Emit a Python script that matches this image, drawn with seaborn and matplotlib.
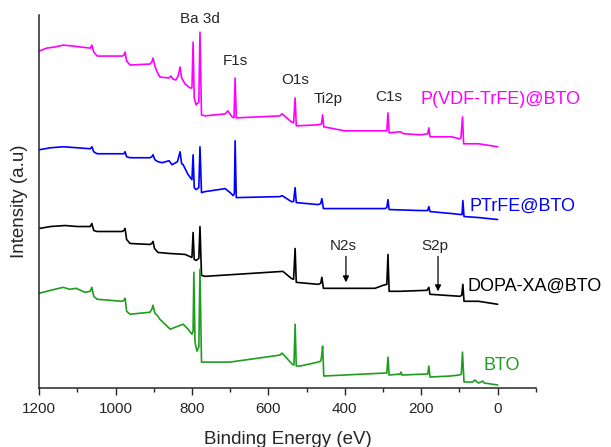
import numpy as np
import pandas as pd
import matplotlib
matplotlib.use("Agg")
import matplotlib.pyplot as plt
import seaborn as sns
from matplotlib.ticker import MultipleLocator

# hand-read spectra: binding energy (eV) and intensity (arbitrary units)
pvdf_e = [1200, 1180, 1160, 1137, 1110, 1090, 1066, 1062, 1057, 1048, 983, 978, 975, 971,
          962, 910, 905, 902, 897, 891, 884, 860, 855, 850, 842, 836, 831, 827, 818, 805,
          800, 797, 794, 789, 782, 779, 775, 766, 713, 706, 695, 690, 687, 684, 570, 564,
          540, 534, 530, 527, 470, 461, 458, 455, 400, 295, 290, 287, 284, 255, 245, 200,
          185, 183, 180, 177, 120, 100, 96, 92, 89, 50, 0]
pvdf_i = [337, 340, 341, 343, 342, 341, 340, 343, 336, 332, 332, 333, 336, 327,
          323, 324, 326, 330, 322, 316, 311, 310, 312, 309, 308, 312, 321, 310, 304, 300,
          300, 346, 290, 283, 286, 356, 273, 272, 274, 277, 271, 270, 310, 270, 272, 274,
          266, 265, 290, 262, 263, 264, 273, 261, 257, 257, 257, 275, 255, 256, 254, 253,
          254, 254, 260, 251, 251, 249, 250, 271, 244, 244, 241]

ptrfe_e = [1200, 1170, 1137, 1100, 1066, 1062, 1057, 1048, 983, 978, 975, 971, 962, 910,
           905, 902, 897, 889, 878, 860, 852, 838, 831, 827, 823, 810, 800, 797, 794, 789,
           782, 779, 775, 766, 713, 700, 692, 689, 687, 684, 570, 564, 540, 534, 530, 527,
           470, 463, 460, 456, 295, 290, 287, 284, 200, 183, 180, 177, 120, 96, 93, 91,
           88, 50, 0]
ptrfe_i = [238, 240, 241, 240, 239, 241, 236, 234, 234, 234, 236, 231, 230, 230,
           231, 233, 228, 226, 225, 227, 223, 226, 236, 224, 223, 213, 208, 233, 200, 198,
           200, 241, 195, 196, 199, 195, 192, 194, 247, 190, 191, 192, 186, 186, 200, 185,
           183, 184, 189, 179, 179, 180, 188, 178, 177, 177, 181, 176, 174, 173, 173, 187,
           171, 170, 168]

dopa_e = [1200, 1170, 1132, 1100, 1066, 1062, 1057, 1048, 983, 978, 975, 971, 962, 910,
          905, 902, 898, 889, 860, 818, 800, 797, 794, 789, 782, 779, 775, 766, 562, 540,
          534, 530, 527, 470, 463, 460, 456, 321, 300, 290, 287, 284, 256, 185, 180, 177,
          99, 94, 91, 88, 50, 0]
dopa_i = [159, 161, 162, 161, 161, 164, 157, 156, 156, 157, 159, 148, 144, 143,
          144, 146, 139, 135, 134, 133, 130, 155, 128, 127, 129, 161, 112, 111, 116, 109,
          108, 139, 105, 103, 104, 110, 99, 99, 102, 103, 133, 96, 96, 97, 100, 93,
          91, 92, 103, 86, 86, 83]

bto_e = [1200, 1170, 1137, 1120, 1103, 1080, 1066, 1062, 1057, 1048, 983, 978, 975, 971,
         962, 910, 905, 902, 897, 891, 884, 857, 823, 810, 800, 797, 795, 792, 787, 782,
         779, 775, 766, 700, 570, 564, 538, 533, 530, 527, 517, 470, 463, 461, 458, 455,
         295, 290, 287, 284, 255, 253, 250, 190, 183, 180, 177, 125, 100, 95, 92, 88,
         65, 60, 50, 39, 35, 0]
bto_i = [94, 97, 100, 98, 99, 95, 96, 100, 91, 88, 86, 87, 89, 76,
         73, 75, 78, 82, 74, 72, 68, 58, 63, 58, 53, 56, 115, 45, 36, 40,
         118, 25, 25, 25, 32, 34, 23, 22, 63, 21, 21, 25, 26, 30, 41, 11,
         14, 14, 30, 12, 13, 15, 12, 13, 13, 21, 10, 11, 12, 13, 35, 5,
         5, 7, 4, 6, 4, 2]

names = ["P(VDF-TrFE)@BTO", "PTrFE@BTO", "DOPA-XA@BTO", "BTO"]
colors = ["#FF00FF", "#0000FF", "#000000", "#1E9E1E"]

peak_names = ["Ba 3d", "F1s", "O1s", "Ti2p", "C1s"]
peak_x = [779, 687, 530, 444, 285]
peak_y = [369, 327, 308, 289, 291]

label_x = [203, 73, 80, 36]
label_y = [288, 181, 101, 22]

arrow_names = ["N2s", "S2p"]
arrow_x = [397, 156]
arrow_top = [131, 131]
arrow_tip = [105, 96]

frames = []
for n, e, i in zip(names, [pvdf_e, ptrfe_e, dopa_e, bto_e], [pvdf_i, ptrfe_i, dopa_i, bto_i]):
    frames.append(pd.DataFrame({"energy": e, "intensity": i, "sample": n}))
data = pd.concat(frames, ignore_index=True)

sns.set_style("ticks")
plt.rcParams["font.family"] = ["Liberation Sans", "DejaVu Sans"]

fig = plt.figure(figsize=(6.11, 4.47), dpi=100)
ax = fig.add_axes([0.064, 0.132, 0.813, 0.834])

for n, c in zip(names, colors):
    sns.lineplot(data=data[data["sample"] == n], x="energy", y="intensity",
                 color=c, lw=1.2, sort=False, ax=ax, legend=False)

for t, x, y in zip(peak_names, peak_x, peak_y):
    ax.text(x, y, t, ha="center", va="center", fontsize=11)

for t, x, y, c in zip(names, label_x, label_y, colors):
    ax.text(x, y, t, ha="left", va="center", fontsize=13, color=c)

for t, x, y0, y1 in zip(arrow_names, arrow_x, arrow_top, arrow_tip):
    ax.annotate("", xy=(x, y1), xytext=(x, y0),
                arrowprops=dict(arrowstyle="-|>", color="black", lw=0.9,
                                mutation_scale=9, shrinkA=0, shrinkB=0))
    ax.text(x + 8, y0 + 10, t, ha="center", va="center", fontsize=11)

ax.set_xlim(1200, -100)
ax.set_ylim(-1, 373)
ax.set_yticks([])
ax.xaxis.set_major_locator(MultipleLocator(200))
ax.xaxis.set_minor_locator(MultipleLocator(100))
ax.set_xticks([1200, 1000, 800, 600, 400, 200, 0])
ax.tick_params(axis="x", which="major", direction="out", length=5, width=1,
               labelsize=11, pad=5)
ax.tick_params(axis="x", which="minor", direction="out", length=3, width=1)
sns.despine(ax=ax)
ax.spines["left"].set_linewidth(1.1)
ax.spines["bottom"].set_linewidth(1.1)
ax.set_xlabel("Binding Energy (eV)", fontsize=13.5, labelpad=11)
ax.set_ylabel("Intensity (a.u)", fontsize=13.5, labelpad=8)

fig.savefig("out.png", dpi=100)
